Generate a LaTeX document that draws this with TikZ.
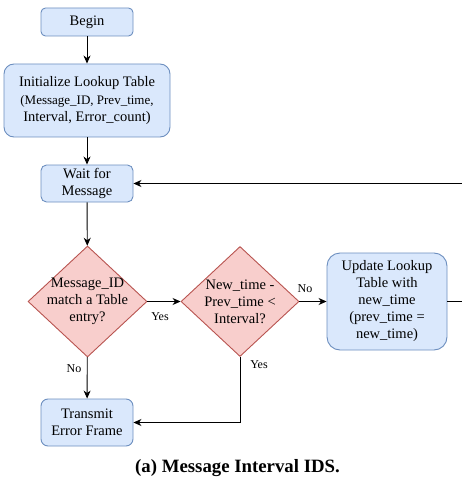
\documentclass[tikz,border=0pt]{standalone}
\usepackage{fontspec}
\setmainfont{Liberation Serif}
\usetikzlibrary{arrows.meta,shapes.geometric}
\definecolor{boxfill}{HTML}{DAE8FC}
\definecolor{boxline}{HTML}{6C8EBF}
\definecolor{decfill}{HTML}{F8CECC}
\definecolor{decline}{HTML}{B85450}

\begin{document}
\begin{tikzpicture}[x=1pt,y=-1pt,
  stepbox/.style={draw=boxline, fill=boxfill, line width=0.9pt, align=center,
    inner sep=0pt, font=\fontsize{14.5}{17}\selectfont},
  decision/.style={diamond, draw=decline, fill=decfill, line width=0.9pt,
    inner sep=0pt},
  dectext/.style={align=center, inner sep=0pt, font=\fontsize{14.5}{17}\selectfont},
  flow/.style={line width=0.9pt, -{Stealth[length=8pt,width=7pt,inset=2.5pt]}},
  plain/.style={line width=0.9pt},
  lbl/.style={font=\fontsize{12}{14}\selectfont, inner sep=0pt}]
\useasboundingbox (0,0) rectangle (462,481);

% process steps
\node[stepbox, minimum width=92pt, minimum height=28pt, rounded corners=4.5pt]
  (begin) at (87,22) {Begin};
\node[stepbox, minimum width=166pt, minimum height=73pt, rounded corners=10pt]
  (init) at (87,100.5) {Initialize Lookup Table\\[1pt]
  \fontsize{13}{15}\selectfont (Message\_ID, Prev\_time,\\Interval, Error\_count)};
\node[stepbox, minimum width=92pt, minimum height=37pt, rounded corners=5.5pt]
  (wait) at (87,183.5) {Wait for\\Message};
\node[stepbox, minimum width=120pt, minimum height=97pt, rounded corners=13pt]
  (upd) at (387,301.5) {Update Lookup\\Table with\\new\_time\\(prev\_time =\\new\_time)};
\node[stepbox, minimum width=92pt, minimum height=47pt, rounded corners=7pt]
  (trans) at (87,422.5) {Transmit\\Error Frame};

% decisions
\node[decision, minimum width=119pt, minimum height=111pt] (d1) at (87.5,301.5) {};
\node[dectext] (d1t) at (87.5,301.5) {Message\_ID\\match a Table\\entry?};
\node[decision, minimum width=118pt, minimum height=110pt] (d2) at (240,301.5) {};
\node[dectext] (d2t) at (240,302) {New\_time -\\Prev\_time <\\Interval?};

% loose ends leaving the frame on the right
\coordinate (outR) at (462,301.5);
\coordinate (inR) at (462,183.5);

% connectors
\draw[flow] (begin) -- (init);
\draw[flow] (init) -- (wait);
\draw[flow] (wait) -- (d1);
\draw[flow] (d1) -- (d2);
\draw[flow] (d2) -- (upd);
\draw[plain] (upd) -- (outR);
\draw[flow] (inR) -- (wait);
\draw[flow] (d1) -- (trans);
\draw[flow] (d2) |- (trans);

% connector labels
\node[lbl] (yes1) at (160,317) {Yes};
\node[lbl] (no1) at (305,289) {No};
\node[lbl] (no2) at (74,369) {No};
\node[lbl] (yes2) at (259,365) {Yes};

% caption
\node[anchor=base, inner sep=0pt, font=\bfseries\fontsize{18.8}{22}\selectfont]
  (cap) at (237.5,472) {(a) Message Interval IDS.};
\end{tikzpicture}
\end{document}
